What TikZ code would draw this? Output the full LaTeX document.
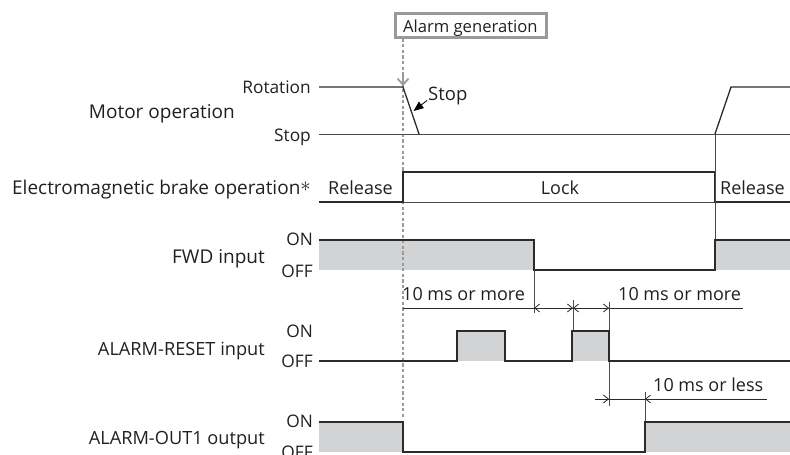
\documentclass[tikz,border=0pt]{standalone}
\usepackage{fontspec}
\setmainfont{Open Sans}
\usetikzlibrary{arrows.meta}
\definecolor{sig}{HTML}{2B2B2B}
\definecolor{fillg}{HTML}{D1D3D4}
\definecolor{dotg}{HTML}{9A9A9A}
\definecolor{txt}{HTML}{231F20}
\begin{document}
\begin{tikzpicture}[x=1pt,y=-1pt,
  sigline/.style={draw=sig, line width=1.3pt, line join=miter},
  thinline/.style={draw=sig!85, line width=0.9pt},
  biglbl/.style={font=\fontsize{19}{22}\selectfont, text=txt, inner sep=0pt, anchor=base east},
  caplbl/.style={font=\fontsize{18.2}{21}\selectfont, text=txt, inner sep=0pt, anchor=base east},
  dimlbl/.style={font=\fontsize{18}{21}\selectfont, text=txt, inner sep=0pt, anchor=base west},
  smlbl/.style={font=\fontsize{17.3}{20}\selectfont, text=txt, inner sep=0pt, anchor=base east},
  dimline/.style={draw=sig, line width=0.8pt},
  barb/.style={-{Straight Barb[length=5pt,width=8pt,line width=0.8pt]}}
]
\useasboundingbox (0,0) rectangle (790,455);

% grey fills
\fill[fillg] (319,240) rectangle (534,270);
\fill[fillg] (715,240) rectangle (790,270);
\fill[fillg] (457,331) rectangle (505,361);
\fill[fillg] (572,331) rectangle (609,361);
\fill[fillg] (319,422) rectangle (403,452);
\fill[fillg] (645,422) rectangle (790,452);

% alarm generation box and dotted line
\node[draw=dotg, line width=2.2pt, minimum width=151pt, minimum height=24pt, inner sep=0pt] (alarm) at (471,25.5) {};
\node[font=\fontsize{16.6}{20}\selectfont, text=txt, inner sep=0pt, anchor=base west] (alarmtxt) at (403,32) {Alarm generation};
\coordinate (dotend) at (403,418);
\draw[dotg, line width=2.8pt, dash pattern=on 3.2pt off 2.4pt] (alarm.south -| dotend) -- (dotend);
\coordinate (arrtip) at (403,86);
\draw[dotg, line width=1.8pt, -{Straight Barb[length=6pt,width=11pt,line width=1.8pt]}] (403,72) -- (arrtip);

% Motor operation
\draw[thinline] (319,134) -- (790,134);
\draw[sigline] (319,87) -- (403,87) -- (419,134);
\draw[sigline] (715,134) -- (731,87) -- (790,87);
\node[biglbl] (motor) at (235,118) {Motor operation};
\node[smlbl] (rot) at (311,93) {Rotation};
\node[smlbl] (stopl) at (311,141.5) {Stop};
\node[font=\fontsize{18.5}{22}\selectfont, text=txt, inner sep=0pt, anchor=base west] (stopann) at (428,100) {Stop};
\draw[draw=black, line width=0.8pt, -{Triangle[length=10pt,width=8pt]}] (427,100.5) -- (413.5,111);

% Brake
\draw[thinline] (319,202) -- (790,202);
\draw[sigline] (319,202) -- (403,202) -- (403,172) -- (715,172) -- (715,202) -- (790,202);
\draw[thinline] (715,134) -- (715,270);
\node[biglbl] (brake) at (311,194) {Electromagnetic brake operation\raisebox{2.5pt}{\fontsize{22}{22}\selectfont$\ast$}};
\node[dimlbl] (rel1) at (328,194) {Release};
\node[dimlbl, anchor=base] (lock) at (560,194) {Lock};
\node[dimlbl] (rel2) at (720,194) {Release};

% FWD input
\draw[sigline] (319,240) -- (534,240) -- (534,270) -- (715,270) -- (715,240) -- (790,240);
\node[biglbl] (fwd) at (265,263) {FWD input};
\node[smlbl] (fwdon) at (313,245) {ON};
\node[smlbl] (fwdoff) at (313,277) {OFF};
\draw[thinline] (534,270) -- (534,313);

% dimension row 1
\draw[dimline] (403,308) -- (743,308);
\draw[thinline] (573,300) -- (573,331);
\draw[thinline] (609,302) -- (609,406);
\draw[dimline, barb] (553,308) -- (534,308);
\draw[dimline, barb] (553,308) -- (573,308);
\draw[dimline, barb] (591,308) -- (573,308);
\draw[dimline, barb] (591,308) -- (609,308);
\node[dimlbl] (d1) at (402,300) {10 ms or more};
\node[dimlbl] (d2) at (618,300) {10 ms or more};

% ALARM-RESET input
\draw[sigline] (319,361) -- (457,361) -- (457,331) -- (505,331) -- (505,361) -- (572,361) -- (572,331) -- (609,331) -- (609,361) -- (790,361);
\node[caplbl] (ares) at (265,355) {ALARM-RESET input};
\node[smlbl] (areson) at (313,337) {ON};
\node[smlbl] (aresoff) at (313,367) {OFF};

% dimension row 2
\draw[dimline] (595,399) -- (767,399);
\draw[thinline] (645,392) -- (645,422);
\draw[dimline, barb] (595,399) -- (609,399);
\draw[dimline, barb] (660,399) -- (645,399);
\node[dimlbl] (d3) at (653,391) {10 ms or less};

% ALARM-OUT1 output
\draw[sigline] (319,422) -- (403,422) -- (403,452) -- (645,452) -- (645,422) -- (790,422);
\node[caplbl] (aout) at (265,444) {ALARM-OUT1 output};
\node[smlbl] (aouton) at (313,427) {ON};
\node[smlbl] (aoutoff) at (313,458) {OFF};
\end{tikzpicture}
\end{document}
